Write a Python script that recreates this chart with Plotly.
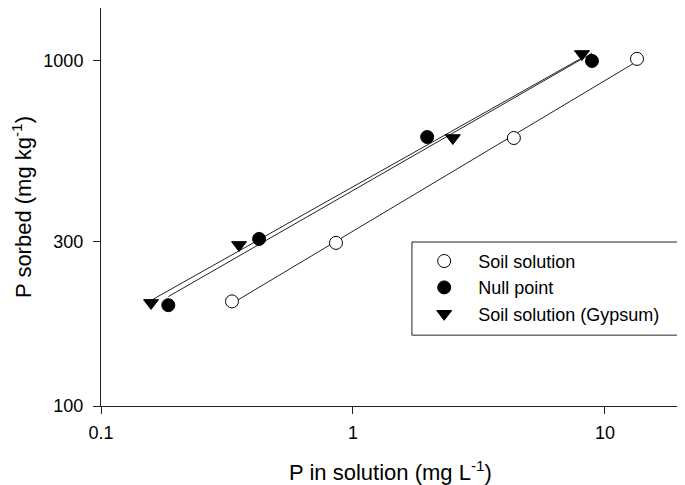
import numpy as np
import plotly.graph_objects as go

# P in solution (mg/L) and P sorbed (mg/kg)
soil_x = [0.331, 0.856, 4.35, 13.4]
soil_y = [201, 297, 598, 1014]
null_x = [0.185, 0.424, 1.97, 8.88]
null_y = [196, 305, 602, 1000]
gyp_x = [0.158, 0.353, 2.49, 8.1]
gyp_y = [199, 293, 598, 1048]

x_ticks = [0.1, 1, 10]
x_labels = ["0.1", "1", "10"]
y_ticks = [100, 300, 1000]
y_labels = ["100", "300", "1000"]

FONT = "Liberation Sans, Arial, sans-serif"


def fit_line(x, y):
    # power-law fit (straight line in log-log space)
    b, a = np.polyfit(np.log10(x), np.log10(y), 1)
    xs = np.array([min(x), max(x)])
    return xs, 10 ** (a + b * np.log10(xs))


fig = go.Figure()

series = [
    ("Soil solution", soil_x, soil_y, "circle", "white"),
    ("Null point", null_x, null_y, "circle", "black"),
    ("Soil solution (Gypsum)", gyp_x, gyp_y, "triangle-down", "black"),
]

for name, x, y, sym, fill in series:
    lx, ly = fit_line(x, y)
    fig.add_trace(go.Scatter(
        x=lx, y=ly, mode="lines", showlegend=False,
        line=dict(color="#222", width=1)
    ))

for name, x, y, sym, fill in series:
    fig.add_trace(go.Scatter(
        x=x, y=y, mode="markers", name=name,
        marker=dict(symbol=sym, size=13, color=fill,
                    line=dict(color="black", width=1))
    ))

# legend frame
fig.add_shape(type="rect", xref="paper", yref="paper",
              x0=0.537, x1=1.0, y0=0.178, y1=0.412,
              line=dict(color="#222", width=1), fillcolor="white",
              layer="below")

# page body adds 8px, so the figure is 8px smaller than the window
fig.update_layout(
    width=677, height=477,
    margin=dict(l=93, r=5, t=0, b=79),
    paper_bgcolor="white", plot_bgcolor="white",
    font=dict(family=FONT, size=18, color="black"),
    legend=dict(x=0.534, y=0.410, xanchor="left", yanchor="top",
                bgcolor="rgba(0,0,0,0)", borderwidth=0,
                itemwidth=58, font=dict(size=18), tracegroupgap=0),
    xaxis=dict(
        type="log", range=[-1, np.log10(19.85)],
        tickvals=x_ticks, ticktext=x_labels,
        ticks="outside", ticklen=7, tickcolor="#222",
        ticklabelstandoff=3,
        showline=True, linecolor="#222", mirror=True,
        showgrid=False, zeroline=False,
        title=dict(text="P in solution (mg L<sup>-1</sup>)", standoff=23),
    ),
    yaxis=dict(
        type="log", range=[2, np.log10(1424)],
        tickvals=y_ticks, ticktext=y_labels,
        ticks="outside", ticklen=7, tickcolor="#222",
        ticklabelstandoff=6,
        showline=True, linecolor="#222", mirror=True,
        showgrid=False, zeroline=False,
        title=dict(text="P sorbed (mg kg<sup>-1</sup>)", standoff=6),
    ),
)

fig.write_html("out.html")
